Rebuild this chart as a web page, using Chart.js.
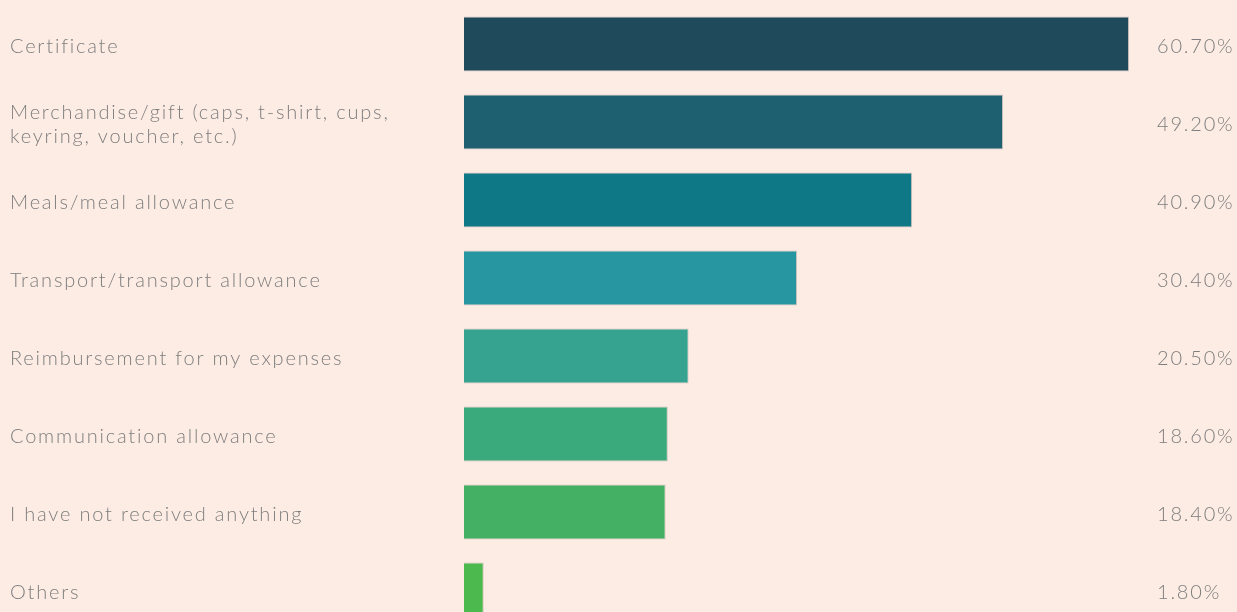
<!DOCTYPE html>
<html>
<head>
<meta charset="utf-8">
<script src="https://cdn.jsdelivr.net/npm/chart.js@4.4.0/dist/chart.umd.min.js"></script>
<style>
  html, body { margin: 0; padding: 0; background: #fdece4; overflow: hidden; }
  #wrap { width: 1237px; height: 612px; overflow: hidden; }
</style>
</head>
<body>
<div id="wrap"><canvas id="myChart" width="1237" height="635"></canvas></div>
<script>
var categories = [
    'Certificate',
    ['Merchandise/gift (caps, t-shirt, cups,', 'keyring, voucher, etc.)'],
    'Meals/meal allowance',
    'Transport/transport allowance',
    'Reimbursement for my expenses',
    'Communication allowance',
    'I have not received anything',
    'Others'
];
var shares = [60.7, 49.2, 40.9, 30.4, 20.5, 18.6, 18.4, 1.8];
var barColors = ['#1f4a5b', '#1f6070', '#0f7886', '#2896a0', '#35a38f', '#3aa97b', '#44b064', '#4cb94e'];

var textColor = '#7e7e7e';
var textFont = '300 20px Lato';

// labels on both sides of the bars, drawn with wide letter spacing
var sideLabels = {
    id: 'sideLabels',
    afterDatasetsDraw: function (chart) {
        var ctx = chart.ctx;
        var yScale = chart.scales.y;
        ctx.save();
        ctx.font = textFont;
        ctx.fillStyle = textColor;
        ctx.textBaseline = 'middle';
        ctx.textAlign = 'left';
        ctx.letterSpacing = '1.8px';
        categories.forEach(function (cat, i) {
            var y = yScale.getPixelForValue(i) + 3;
            var lines = Array.isArray(cat) ? cat : [cat];
            var lh = 24;
            var start = y - (lines.length - 1) * lh / 2;
            lines.forEach(function (line, j) {
                ctx.fillText(line, 10, start + j * lh);
            });
            ctx.fillText(shares[i].toFixed(2) + '%', 1157, y);
        });
        ctx.restore();
    }
};

var ctx = document.getElementById('myChart').getContext('2d');
var chart = new Chart(ctx, {
    type: 'bar',
    data: {
        labels: categories,
        datasets: [{
            data: shares,
            backgroundColor: barColors,
            borderColor: 'rgba(120,120,120,0.35)',
            borderWidth: 1,
            barPercentage: 0.705,
            categoryPercentage: 1
        }]
    },
    options: {
        indexAxis: 'y',
        responsive: false,
        animation: false,
        layout: { padding: { left: 464, right: 6, top: 5, bottom: 6 } },
        scales: {
            x: { display: false, min: 0, max: 70 },
            y: { display: false }
        },
        plugins: {
            legend: { display: false },
            tooltip: { enabled: false }
        }
    },
    plugins: [sideLabels]
});
</script>
</body>
</html>
